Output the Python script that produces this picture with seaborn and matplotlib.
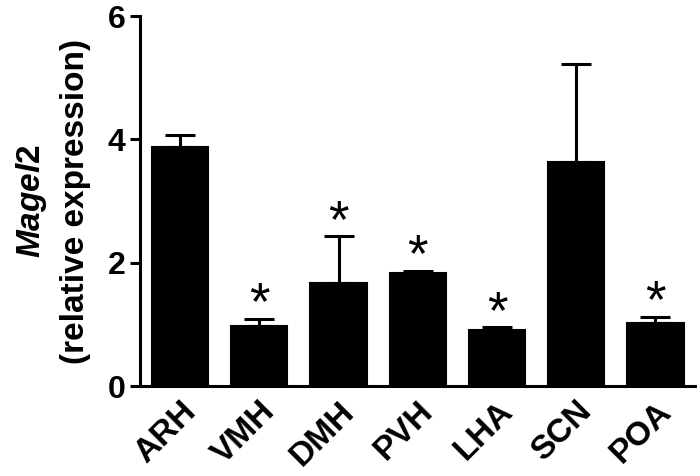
import matplotlib
matplotlib.use("Agg")
import matplotlib.pyplot as plt
import matplotlib.transforms as mtransforms
import seaborn as sns
import pandas as pd
import numpy as np

regions = ["ARH", "VMH", "DMH", "PVH", "LHA", "SCN", "POA"]
means = [3.88, 0.97, 1.67, 1.83, 0.91, 3.63, 1.03]
sem = [0.19, 0.12, 0.76, 0.04, 0.04, 1.59, 0.09]
significant = [False, True, True, True, True, False, True]
yticks = [0, 2, 4, 6]

sns.set_style("ticks")
plt.rcParams['font.family'] = ['Liberation Sans', 'DejaVu Sans']
plt.rcParams['font.weight'] = 'bold'
plt.rcParams['text.color'] = 'black'
plt.rcParams['axes.labelcolor'] = 'black'
plt.rcParams['xtick.color'] = 'black'
plt.rcParams['ytick.color'] = 'black'
plt.rcParams['axes.edgecolor'] = 'black'
plt.rcParams['mathtext.fontset'] = 'custom'
plt.rcParams['mathtext.it'] = 'Liberation Sans:italic:bold'
plt.rcParams['mathtext.rm'] = 'Liberation Sans:bold'

df = pd.DataFrame({"region": regions, "expr": means})

fig = plt.figure(figsize=(7, 4.76), dpi=100)
ax = fig.add_axes([0.2, 0.189, 0.793, 0.777])

sns.barplot(data=df, x="region", y="expr", color="black", errorbar=None,
            width=0.71, edgecolor="black", linewidth=1.5, saturation=1, ax=ax)

x = np.arange(len(regions))
ax.errorbar(x, means, yerr=[np.zeros(len(sem)), sem], fmt="none",
            ecolor="black", elinewidth=2.2, capsize=10.8, capthick=2.2, zorder=3)

for xi, m, s, sig in zip(x, means, sem, significant):
    if sig:
        ax.text(xi, m + s + 0.22, "*", ha="center", va="center",
                fontsize=38, fontweight="normal", color="black")

ax.set_ylim(0, 6)
ax.set_xlim(-0.506, 6.5)
ax.set_yticks(yticks)
ax.set_yticklabels([str(t) for t in yticks], fontsize=23, fontweight="bold")
ax.set_xticks(x)
ax.set_xticklabels(regions, fontsize=24, fontweight="bold", rotation=45,
                   ha="right", rotation_mode="anchor")
offset = mtransforms.ScaledTranslation(-8 / 72, 0, fig.dpi_scale_trans)
for lbl in ax.get_xticklabels():
    lbl.set_transform(lbl.get_transform() + offset)
ax.tick_params(axis="x", length=0, pad=7)
ax.tick_params(axis="y", length=7.5, width=2.2, pad=3)
for side in ["top", "right"]:
    ax.spines[side].set_visible(False)
for side in ["left", "bottom"]:
    ax.spines[side].set_linewidth(2.2)
ax.set_xlabel("")
ax.set_ylabel(r"$\it{Magel2}$" + "\n(relative expression)",
              fontsize=24, fontweight="bold", labelpad=12, linespacing=1.45)

fig.savefig("out.png", dpi=100)
